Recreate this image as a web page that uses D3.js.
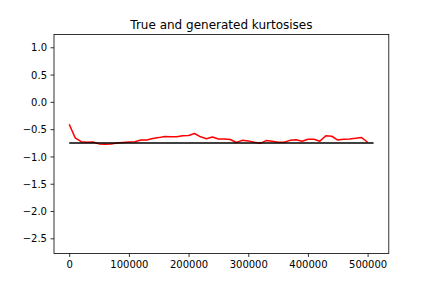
<!DOCTYPE html>
<html lang="en">
<head>
    <meta charset="UTF-8">
    <title>True and generated kurtosises</title>
    <style>
        body { margin: 0; background: #fff; }
        text { font-family: "DejaVu Sans", sans-serif; fill: #000; }
    </style>
</head>
<body>
    <script src="https://d3js.org/d3.v7.min.js"></script>
    <script>
        // data
        var steps = d3.range(0, 510000, 10000);
        var generated = [
            -0.41, -0.66, -0.73, -0.74, -0.735, -0.77, -0.775, -0.77, -0.755, -0.745,
            -0.735, -0.73, -0.70, -0.70, -0.67, -0.655, -0.635, -0.64, -0.64, -0.62,
            -0.615, -0.58, -0.64, -0.675, -0.645, -0.68, -0.68, -0.69, -0.745, -0.705,
            -0.715, -0.74, -0.76, -0.71, -0.72, -0.74, -0.74, -0.705, -0.695, -0.72,
            -0.685, -0.685, -0.72, -0.62, -0.63, -0.70, -0.685, -0.68, -0.665, -0.655,
            -0.74
        ];
        var trueSteps = [0, 510000];
        var trueValue = [-0.755, -0.755];
        var xTicks = [0, 100000, 200000, 300000, 400000, 500000];
        var yTicks = [1.0, 0.5, 0.0, -0.5, -1.0, -1.5, -2.0, -2.5];

        var w = 432, h = 288;
        var margin = {top: 34.56, right: 43.2, bottom: 34.56, left: 54};

        var svg = d3.select("body").append("svg")
            .attr("width", w)
            .attr("height", h);

        var x = d3.scaleLinear()
            .domain([-25500, 535500])
            .range([margin.left, w - margin.right]);
        var y = d3.scaleLinear()
            .domain([-2.777, 1.233])
            .range([h - margin.bottom, margin.top]);

        // lines
        var line = d3.line()
            .x(function(d) { return x(d[0]); })
            .y(function(d) { return y(d[1]); });

        svg.append("path")
            .datum(d3.zip(steps, generated))
            .attr("fill", "none")
            .attr("stroke", "#ff0000")
            .attr("stroke-width", 1.5)
            .attr("stroke-linejoin", "round")
            .attr("d", line);

        svg.append("path")
            .datum(d3.zip(trueSteps, trueValue))
            .attr("fill", "none")
            .attr("stroke", "#000")
            .attr("stroke-width", 1.5)
            .attr("d", line);

        // axes
        var xAxis = svg.append("g")
            .attr("transform", "translate(0," + (h - margin.bottom) + ")")
            .call(d3.axisBottom(x).tickValues(xTicks).tickFormat(d3.format("d"))
                .tickSizeOuter(0).tickSize(3.5).tickPadding(3.5));
        var yAxis = svg.append("g")
            .attr("transform", "translate(" + margin.left + ",0)")
            .call(d3.axisLeft(y).tickValues(yTicks).tickFormat(d3.format(".1f"))
                .tickSizeOuter(0).tickSize(3.5).tickPadding(3.5));

        [xAxis, yAxis].forEach(function(g) {
            g.select(".domain").remove();
            g.selectAll("line").attr("stroke", "#000").attr("stroke-width", 0.8);
            g.selectAll("text")
                .style("font-family", "DejaVu Sans")
                .style("font-size", "10px")
                .attr("fill", "#000");
        });
        xAxis.selectAll("text").attr("dy", "0.76em");
        yAxis.selectAll("text").attr("dy", "0.36em");

        // frame
        svg.append("rect")
            .attr("x", margin.left)
            .attr("y", margin.top)
            .attr("width", w - margin.left - margin.right)
            .attr("height", h - margin.top - margin.bottom)
            .attr("fill", "none")
            .attr("stroke", "#000")
            .attr("stroke-width", 0.8);

        svg.append("text")
            .attr("x", (margin.left + w - margin.right) / 2)
            .attr("y", margin.top - 6)
            .attr("text-anchor", "middle")
            .style("font-size", "12px")
            .text("True and generated kurtosises");
    </script>
</body>
</html>
